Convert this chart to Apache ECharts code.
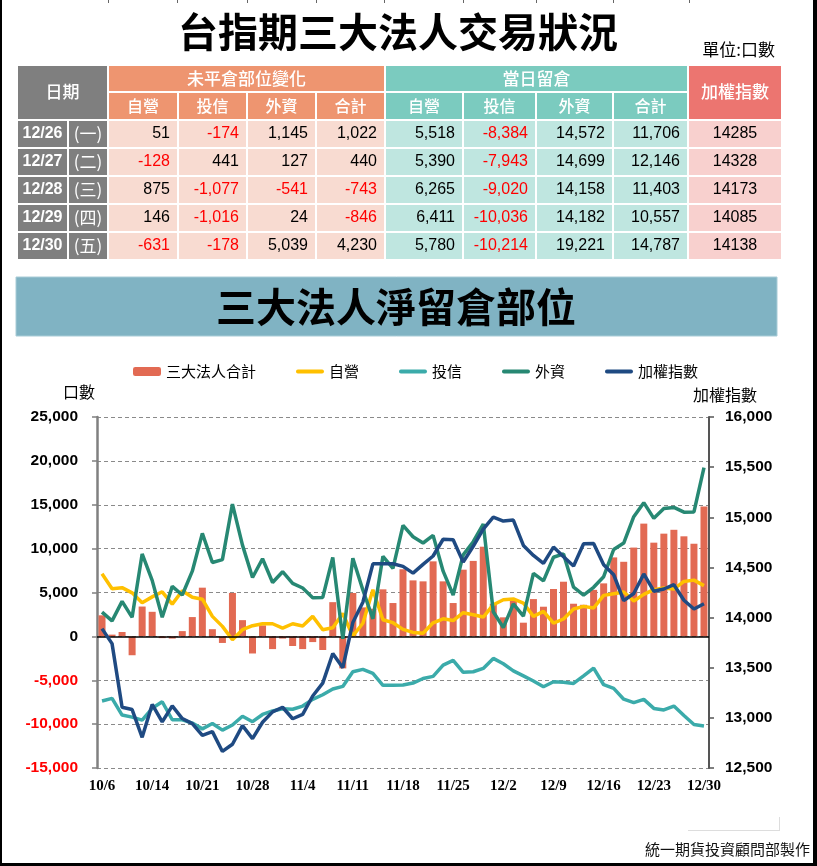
<!DOCTYPE html>
<html>
<head>
<meta charset="utf-8">
<script src="https://cdn.jsdelivr.net/npm/echarts@6/dist/echarts.min.js"></script>
<style>
html,body{margin:0;padding:0;background:#fff;}
#chart{width:817px;height:866px;}
</style>
</head>
<body>
<div id="chart"></div>
<script>
// ---------- Table data ----------
const tableDates = ['12/26','12/27','12/28','12/29','12/30'];
const tableWeekdays = ['(一)','(二)','(三)','(四)','(五)'];
const oiChgDealer  = [51, -128, 875, 146, -631];
const oiChgTrust   = [-174, 441, -1077, -1016, -178];
const oiChgForeign = [1145, 127, -541, 24, 5039];
const oiChgTotal   = [1022, 440, -743, -846, 4230];
const oiDealer  = [5518, 5390, 6265, 6411, 5780];
const oiTrust   = [-8384, -7943, -9020, -10036, -10214];
const oiForeign = [14572, 14699, 14158, 14182, 19221];
const oiTotal   = [11706, 12146, 11403, 10557, 14787];
const taiex     = [14285, 14328, 14173, 14085, 14138];

// ---------- Chart data ----------
const dates = ['10/6','10/7','10/11','10/12','10/13','10/14','10/17','10/18','10/19','10/20','10/21','10/24','10/25','10/26','10/27','10/28','10/31','11/1','11/2','11/3','11/4','11/7','11/8','11/9','11/10','11/11','11/14','11/15','11/16','11/17','11/18','11/21','11/22','11/23','11/24','11/25','11/28','11/29','11/30','12/1','12/2','12/5','12/6','12/7','12/8','12/9','12/12','12/13','12/14','12/15','12/16','12/19','12/20','12/21','12/22','12/23','12/26','12/27','12/28','12/29','12/30'];
const netTotal = [2400,200,500,-2150,3400,2800,-200,-250,600,2200,5550,820,-750,4950,1850,-1950,1250,-1450,-250,-1100,-1450,-650,-1550,3900,-3650,4940,3300,3150,5360,3800,7650,6380,6270,8550,6270,3800,7600,8600,10220,3720,2170,4070,1560,4250,3380,5400,6230,3720,3600,5300,6040,9000,8500,10120,12850,10680,11706,12146,11403,10557,14787];
const dealer = [7140,5430,5550,4960,3840,4500,5080,3670,5200,4450,4240,2280,1140,-380,760,1220,1440,1440,950,1440,1180,2280,760,990,2600,50,1500,5300,1900,1560,800,450,350,1550,2000,1800,2700,2470,2200,3610,4180,4260,3800,2280,2850,1520,1980,3120,3420,3230,4670,4860,5050,4030,4790,5320,5518,5390,6265,6411,5780];
const trust = [-7370,-7070,-8970,-9200,-9540,-8200,-7450,-9500,-9500,-9880,-10540,-9920,-10680,-10100,-9100,-9720,-8900,-8500,-8250,-8300,-7940,-7180,-6650,-6000,-5700,-4030,-3760,-4220,-5580,-5580,-5550,-5320,-4800,-4560,-3270,-2730,-4100,-4030,-3650,-2510,-3120,-3930,-4500,-5080,-5740,-5170,-5220,-5360,-4500,-3610,-5510,-5930,-7160,-7560,-7180,-8210,-8384,-7943,-9020,-10036,-10214];
const foreign = [2770,1770,3990,2170,9390,6380,2170,5700,4710,7430,11740,8420,8740,15080,10400,6710,8850,6140,7370,6040,5510,4410,4440,9000,-270,8900,5280,2000,9120,7750,12640,11350,10640,11510,7430,4710,9290,10790,12800,2800,1000,3700,2300,7180,6320,9020,9400,5600,4710,5590,6800,9900,10640,13640,15240,13450,14572,14699,14158,14182,19221];
const indexVals = [13890,13740,13105,13083,12806,13134,12960,13120,12993,12943,12826,12863,12665,12737,12922,12793,12956,13060,13106,12991,13034,13218,13346,13642,13500,13950,14153,14536,14536,14536,14511,14443,14531,14614,14781,14776,14553,14711,14881,15002,14962,14972,14719,14619,14540,14703,14606,14514,14736,14738,14527,14427,14169,14240,14435,14263,14285,14328,14173,14085,14138];

const seriesNames = ['三大法人合計','自營','投信','外資','加權指數'];
const subHeads = ['自營','投信','外資','合計'];

// ---------- helpers ----------
const CJK = '"Noto Sans CJK TC","Noto Sans CJK SC",sans-serif';
const NUM = '"Liberation Sans",Arial,sans-serif';
const fmt = v => String(v).replace(/\B(?=(\d{3})+(?!\d))/g, ',');

const colX = [17, 68, 108, 178, 247, 316, 385, 463, 536, 613, 688, 782];
const rowY = [65, 92, 120, 148, 176, 204, 232, 260];
const C = {
  grey: '#7F7F7F', orange: '#EE9570', teal: '#7BCBBF', red: '#EC7570',
  pink: '#F8DBD1', lteal: '#BFE6E0', lred: '#F8D0CE'
};
const g = [];
function cell(x0, y0, x1, y1, fill) {
  g.push({type:'rect', shape:{x:x0+1, y:y0+1, width:x1-x0-2, height:y1-y0-2}, style:{fill:fill}, silent:true});
}
function txt(x, y, text, opt) {
  g.push({type:'text', x:x, y:y, silent:true, style:Object.assign({
    text:text, fill:'#000', font:'normal 16px ' + CJK, align:'center', verticalAlign:'middle'
  }, opt || {})});
}

// frame
g.push({type:'rect', shape:{x:0,y:0,width:2,height:866}, style:{fill:'#000'}, silent:true});
g.push({type:'rect', shape:{x:813,y:0,width:4,height:866}, style:{fill:'#000'}, silent:true});
g.push({type:'rect', shape:{x:0,y:863,width:817,height:3}, style:{fill:'#000'}, silent:true});
[108,177,247,316,384,463,536,613,689].forEach(x => {
  g.push({type:'rect', shape:{x:x,y:0,width:1,height:3}, style:{fill:'#666'}, silent:true});
});

// titles
txt(398, 32, '台指期三大法人交易狀況', {font:'bold 40px ' + CJK});
txt(775, 50, '單位:口數', {font:'normal 17px ' + CJK, align:'right'});

// header
cell(colX[0], rowY[0], colX[2], rowY[2], C.grey);
txt((colX[0]+colX[2])/2, 92, '日期', {fill:'#fff', font:'500 17px ' + CJK});
cell(colX[2], rowY[0], colX[6], rowY[1], C.orange);
txt((colX[2]+colX[6])/2, 78.5, '未平倉部位變化', {fill:'#fff', font:'500 17px ' + CJK});
cell(colX[6], rowY[0], colX[10], rowY[1], C.teal);
txt((colX[6]+colX[10])/2, 78.5, '當日留倉', {fill:'#fff', font:'500 17px ' + CJK});
cell(colX[10], rowY[0], colX[11], rowY[2], C.red);
txt((colX[10]+colX[11])/2, 92, '加權指數', {fill:'#fff', font:'500 17px ' + CJK});
for (let k = 0; k < 8; k++) {
  const c = 2 + k;
  cell(colX[c], rowY[1], colX[c+1], rowY[2], k < 4 ? C.orange : C.teal);
  txt((colX[c]+colX[c+1])/2, 106, subHeads[k % 4], {fill:'#fff', font:'500 16px ' + CJK});
}
// body
const cols = [oiChgDealer, oiChgTrust, oiChgForeign, oiChgTotal, oiDealer, oiTrust, oiForeign, oiTotal];
for (let r = 0; r < tableDates.length; r++) {
  const y0 = rowY[2+r], y1 = rowY[3+r], ym = (y0 + y1) / 2;
  cell(colX[0], y0, colX[1], y1, C.grey);
  txt((colX[0]+colX[1])/2, ym, tableDates[r], {fill:'#fff', font:'bold 16px ' + NUM});
  cell(colX[1], y0, colX[2], y1, C.grey);
  txt((colX[1]+colX[2])/2, ym, tableWeekdays[r], {fill:'#fff', font:'normal 17px ' + CJK});
  for (let k = 0; k < 8; k++) {
    const c = 2 + k, v = cols[k][r];
    cell(colX[c], y0, colX[c+1], y1, k < 4 ? C.pink : C.lteal);
    txt(colX[c+1] - 8, ym, fmt(v), {align:'right', fill: v < 0 ? '#FF0000' : '#000', font:'normal 16px ' + NUM});
  }
  cell(colX[10], y0, colX[11], y1, C.lred);
  txt((colX[10]+colX[11])/2, ym, String(taiex[r]), {font:'normal 16px ' + NUM});
}

// banner
g.push({type:'rect', shape:{x:16, y:277, width:761, height:59}, style:{fill:'#80B3C3', stroke:'#A8CCD7', lineWidth:1}, silent:true});
txt(396, 307, '三大法人淨留倉部位', {font:'bold 40px ' + CJK});

// axis names
txt(79, 392, '口數', {font:'normal 16px ' + CJK});
txt(725, 395, '加權指數', {font:'normal 16px ' + CJK});

// footer
g.push({type:'rect', shape:{x:688, y:830, width:92, height:1}, style:{fill:'#DDDDDD'}, silent:true});
g.push({type:'rect', shape:{x:779, y:817, width:1, height:14}, style:{fill:'#DDDDDD'}, silent:true});
txt(810, 849, '統一期貨投資顧問部製作', {font:'normal 15px ' + CJK, align:'right', fill:'#111'});

// ---------- chart ----------
const chart = echarts.init(document.getElementById('chart'), null, {renderer:'canvas'});
const lineColors = ['#FFC000', '#3BABAA', '#278873', '#1F4A82'];
const lineData = [dealer, trust, foreign, indexVals];

const series = [{
  name: seriesNames[0], type: 'bar', data: netTotal, barWidth: 7, z: 2,
  itemStyle: {color: '#E26A53'},
  markLine: {
    silent: true, symbol: ['none','none'], label: {show:false}, animation:false,
    lineStyle: {color:'#000', width:1.5, type:'solid'},
    data: [{yAxis: 0}]
  }
}];
for (let k = 0; k < 4; k++) {
  series.push({
    name: seriesNames[k+1], type: 'line', data: lineData[k], yAxisIndex: k === 3 ? 1 : 0,
    symbol: 'none', smooth: false, z: 3 + k,
    lineStyle: {color: lineColors[k], width: 3.5},
    itemStyle: {color: lineColors[k]}
  });
}

const lineIcon = 'path://M0,0M1.9,2.6L26.1,2.6A1.9,1.9,0,0,1,26.1,6.4L1.9,6.4A1.9,1.9,0,0,1,1.9,2.6ZM28,9';
const legendData = [{name: seriesNames[0], icon: 'roundRect', itemStyle: {borderWidth: 0}}];
for (let k = 1; k < 5; k++) {
  legendData.push({name: seriesNames[k], icon: lineIcon, itemStyle: {color: lineColors[k-1], borderWidth: 0}});
}

chart.setOption({
  animation: false,
  backgroundColor: '#fff',
  graphic: {elements: g},
  legend: {
    top: 359, left: 128, itemWidth: 28, itemHeight: 9, itemGap: 40,
    textStyle: {fontFamily: CJK, fontSize: 15, color: '#000'},
    data: legendData
  },
  grid: {left: 97, right: 108, top: 417, bottom: 98, outerBoundsMode: 'none'},
  xAxis: {
    type: 'category', data: dates, boundaryGap: true,
    axisLine: {show: false}, axisTick: {show: false}, splitLine: {show: false},
    axisLabel: {interval: 4, margin: 11, fontFamily: '"Liberation Serif","Times New Roman",serif', fontWeight: 'bold', fontSize: 15, color: '#000'}
  },
  yAxis: [{
    type: 'value', min: -15000, max: 25000, interval: 5000,
    axisLine: {show: true, lineStyle: {color: '#808080', width: 2.5}},
    axisTick: {show: true, length: 5, lineStyle: {color: '#808080', width: 1.5}},
    splitLine: {show: true, lineStyle: {color: '#8A8A8A', width: 1, type: [4, 3]}},
    axisLabel: {margin: 19, fontFamily: NUM, fontWeight: 'bold', fontSize: 15.5,
      formatter: v => (v < 0 ? '-' : '') + fmt(Math.abs(v)),
      color: v => (Number(v) < 0 ? '#FF0000' : '#000')}
  }, {
    type: 'value', min: 12500, max: 16000, interval: 500, position: 'right',
    axisLine: {show: true, lineStyle: {color: '#555', width: 2}},
    axisTick: {show: true, length: 5, lineStyle: {color: '#555', width: 1.5}},
    splitLine: {show: false},
    axisLabel: {margin: 16, fontFamily: NUM, fontWeight: 'bold', fontSize: 15.5, color: '#000',
      formatter: v => fmt(v)}
  }],
  series: series
});
</script>
</body>
</html>
